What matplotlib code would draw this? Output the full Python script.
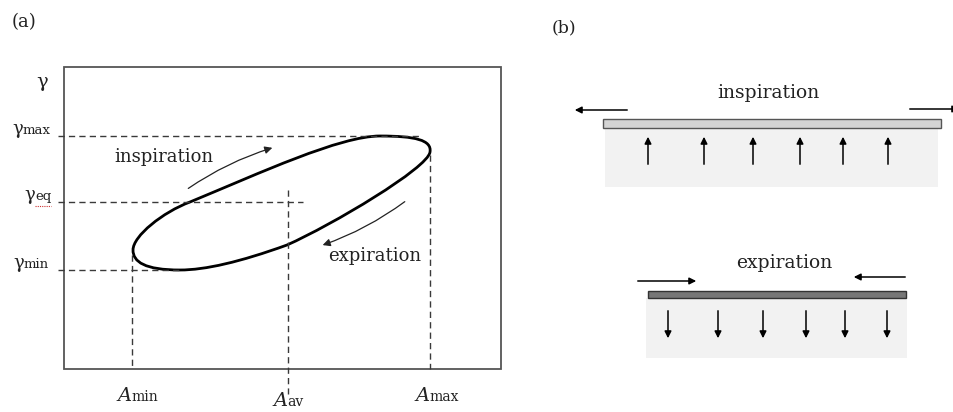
import matplotlib.pyplot as plt
from matplotlib.path import Path
from matplotlib.patches import PathPatch, Rectangle

# diagram works in pixel coordinates of the 954x412 picture
# panel (a): reference levels on the gamma axis
gamma_subs = ['max', 'eq', 'min']
gamma_y = [136, 202, 270]
gamma_label_x = [12, 24, 13]
gamma_line_end = [420, 303, 182]

# panel (a): reference positions on the A axis
a_subs = ['min', 'av', 'max']
a_x = [132, 288, 430]
a_line_top = [255, 190, 155]
a_label_base = [401, 406, 401]

# hysteresis loop (cubic bezier vertices)
loop_x = [133, 133, 163, 190, 260, 340, 380, 415, 432, 430, 428, 332, 287, 240, 205, 180, 145, 133, 133]
loop_y = [250, 236, 212, 202, 173, 136, 136, 136, 140, 152, 168, 225, 245, 262, 270, 270, 270, 262, 250]

# panel (b): arrows under the plates
up_x = [648, 704, 753, 800, 843, 888]
down_x = [668, 718, 763, 806, 845, 887]

plt.rcParams['font.family'] = ['DejaVu Serif']

fig = plt.figure(figsize=(9.54, 4.12), dpi=100)
ax = fig.add_axes([0, 0, 1, 1])
ax.set_xlim(0, 954)
ax.set_ylim(412, 0)
ax.axis('off')

dash_kw = dict(color='#3a3a3a', lw=1.0, linestyle=(0, (4.5, 3)))
txt = '#222222'

# ---- panel (a) ----
ax.text(12, 22, '(a)', fontsize=13, color=txt, va='center')
ax.add_patch(Rectangle((64, 67), 437, 302, fill=False, ec='#555555', lw=1.3))

ax.text(36, 82, 'γ', fontsize=14, color=txt, va='center')
for sub, y, lx, xe in zip(gamma_subs, gamma_y, gamma_label_x, gamma_line_end):
    ax.plot([58, xe], [y, y], **dash_kw)
    ax.text(lx, y - 2, 'γ', fontsize=13, color=txt, va='baseline')
    ax.text(lx + 11, y - 2, sub, fontsize=9.5, color=txt, va='baseline')
ax.plot([35, 51], [206, 206], color='#cc3333', lw=0.8, linestyle=(0, (1, 1)))

for sub, x, yt, yb in zip(a_subs, a_x, a_line_top, a_label_base):
    ax.plot([x, x], [yt, 369 if sub != 'av' else 394], **dash_kw)
    ax.text(x - 15, yb, 'A', fontsize=14, style='italic', color=txt, va='baseline')
    ax.text(x - 1, yb, sub, fontsize=10, color=txt, va='baseline')

codes = [Path.MOVETO] + [Path.CURVE4] * (len(loop_x) - 1)
loop = Path(list(zip(loop_x, loop_y)), codes)
ax.add_patch(PathPatch(loop, fill=False, ec='black', lw=2.0))

ax.annotate('', xy=(275, 147), xytext=(186, 190),
            arrowprops=dict(arrowstyle='-|>', color='#222222', lw=0.9,
                            mutation_scale=11, connectionstyle='arc3,rad=-0.08'))
ax.annotate('', xy=(320, 246), xytext=(407, 200),
            arrowprops=dict(arrowstyle='-|>', color='#222222', lw=0.9,
                            mutation_scale=11, connectionstyle='arc3,rad=-0.08'))
ax.text(164, 157, 'inspiration', fontsize=13, color=txt, ha='center', va='center')
ax.text(375, 256, 'expiration', fontsize=13, color=txt, ha='center', va='center')

# ---- panel (b) ----
ax.text(552, 28, '(b)', fontsize=12.5, color=txt, va='center')

# inspiration
ax.add_patch(Rectangle((605, 128), 333, 59, fc='#f2f2f2', ec='none'))
ax.add_patch(Rectangle((603, 119), 338, 9, fc='#d4d4d4', ec='#555555', lw=1.0))
ax.text(768, 93, 'inspiration', fontsize=13.5, color=txt, ha='center', va='center')
arr = dict(arrowstyle='-|>', color='black', lw=1.1, mutation_scale=10)
ax.annotate('', xy=(572, 110), xytext=(630, 110), arrowprops=arr)
ax.annotate('', xy=(962, 109), xytext=(907, 109), arrowprops=arr, annotation_clip=False)
for x in up_x:
    ax.annotate('', xy=(x, 134), xytext=(x, 167), arrowprops=arr)

# expiration
ax.add_patch(Rectangle((646, 298), 261, 60, fc='#f2f2f2', ec='none'))
ax.add_patch(Rectangle((648, 291), 258, 7, fc='#777777', ec='#333333', lw=1.0))
ax.text(784, 263, 'expiration', fontsize=13.5, color=txt, ha='center', va='center')
ax.annotate('', xy=(699, 281), xytext=(635, 281), arrowprops=arr)
ax.annotate('', xy=(851, 277), xytext=(908, 277), arrowprops=arr)
for x in down_x:
    ax.annotate('', xy=(x, 341), xytext=(x, 308), arrowprops=arr)

fig.savefig('out.png', dpi=100)
